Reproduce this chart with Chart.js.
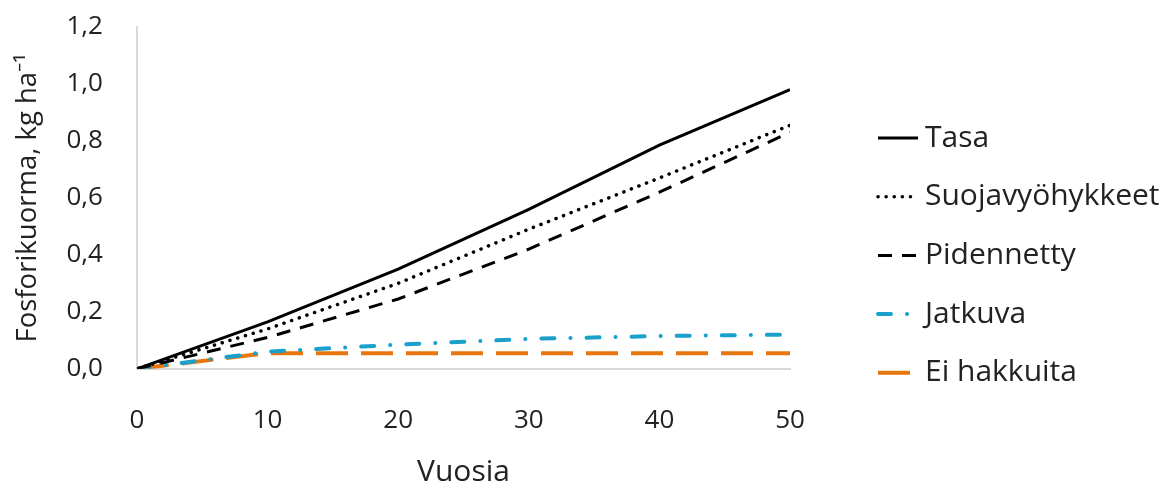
<!DOCTYPE html>
<html>
<head>
<meta charset="utf-8">
<script src="https://cdn.jsdelivr.net/npm/chart.js@4"></script>
<style>
  html, body { margin: 0; padding: 0; background: #fff; }
  #wrap { width: 1172px; height: 488px; }
</style>
</head>
<body>
<div id="wrap"><canvas id="myChart" width="1172" height="488"></canvas></div>
<script>
// vuodet ja fosforikuorma (kg/ha) luettuna kuvasta
var years = [0, 10, 20, 30, 40, 50];
var tasa = [0, 0.165, 0.35, 0.56, 0.785, 0.98];
var suoja = [0, 0.14, 0.30, 0.49, 0.67, 0.855];
var pidennetty = [0, 0.11, 0.245, 0.42, 0.62, 0.83];
var jatkuva = [0, 0.06, 0.085, 0.105, 0.115, 0.12];
var eiHakkuita = [0, 0.055, 0.055, 0.055, 0.055, 0.055];
var yTicks = [0, 0.2, 0.4, 0.6, 0.8, 1.0, 1.2];

function pts(arr) {
    return years.map(function (x, i) { return {x: x, y: arr[i]}; });
}

Chart.defaults.font.family = 'Open Sans';
Chart.defaults.color = '#222';

// selite piirretään itse oikealle, viivatyylit datasetistä
var sideLegend = {
    id: 'sideLegend',
    afterDraw: function (chart, args, opts) {
        var c = chart.ctx;
        chart.data.datasets.forEach(function (ds, i) {
            var y = opts.top + i * opts.step;
            c.save();
            c.strokeStyle = ds.borderColor;
            c.lineWidth = ds.borderWidth;
            c.lineCap = ds.borderCapStyle || 'butt';
            c.setLineDash(ds.borderDash || []);
            c.beginPath();
            c.moveTo(opts.x, y);
            c.lineTo(opts.x + opts.lineLen, y);
            c.stroke();
            c.setLineDash([]);
            c.fillStyle = '#222';
            c.font = opts.fontSize + 'px "Open Sans"';
            c.textBaseline = 'middle';
            c.textAlign = 'left';
            c.fillText(ds.label, opts.x + opts.lineLen + opts.gap, y);
            c.restore();
        });
    }
};

function noPadX(axis) { axis.paddingLeft = 0; axis.paddingRight = 0; }
function noPadY(axis) { axis.paddingTop = 0; axis.paddingBottom = 0; }

var ctx = document.getElementById('myChart').getContext('2d');
var myChart = new Chart(ctx, {
    type: 'line',
    data: {
        datasets: [{
            label: 'Tasa',
            data: pts(tasa),
            borderColor: '#000',
            borderWidth: 3
        }, {
            label: 'Suojavyöhykkeet',
            data: pts(suoja),
            borderColor: '#000',
            borderWidth: 3.5,
            borderDash: [0.1, 8],
            borderCapStyle: 'round'
        }, {
            label: 'Pidennetty',
            data: pts(pidennetty),
            borderColor: '#000',
            borderWidth: 3,
            borderDash: [14, 10]
        }, {
            label: 'Jatkuva',
            data: pts(jatkuva),
            borderColor: '#1AA1CB',
            borderWidth: 4,
            borderDash: [13, 16, 0.1, 16],
            borderCapStyle: 'round'
        }, {
            label: 'Ei hakkuita',
            data: pts(eiHakkuita),
            borderColor: '#E8760F',
            borderWidth: 4,
            borderDash: [32, 13]
        }]
    },
    options: {
        responsive: false,
        animation: false,
        elements: { point: { radius: 0 }, line: { tension: 0 } },
        layout: { padding: { left: 12, right: 382, top: 27, bottom: 1 } },
        scales: {
            x: {
                type: 'linear',
                min: 0,
                max: 50,
                afterFit: noPadX,
                grid: { display: true, drawOnChartArea: false, tickLength: 36, color: 'rgba(0,0,0,0)' },
                border: { display: true, color: '#d9d9d9', width: 2 },
                ticks: { stepSize: 10, padding: 0, maxRotation: 0, font: { size: 26 } },
                title: {
                    display: true,
                    text: 'Vuosia',
                    font: { size: 30, lineHeight: 1 },
                    padding: { top: 21, bottom: 0 }
                }
            },
            y: {
                min: 0,
                max: 1.2,
                afterFit: noPadY,
                grid: { display: true, drawOnChartArea: false, tickLength: 34, color: 'rgba(0,0,0,0)' },
                border: { display: true, color: '#d9d9d9', width: 2 },
                afterBuildTicks: function (axis) {
                    axis.ticks = yTicks.map(function (v) { return {value: v}; });
                },
                ticks: {
                    padding: 0,
                    font: { size: 26 },
                    callback: function (v) { return v.toFixed(1).replace('.', ','); }
                },
                title: {
                    display: true,
                    text: 'Fosforikuorma, kg ha⁻¹',
                    font: { size: 27.5, lineHeight: 1 },
                    padding: { top: 2, bottom: 25 }
                }
            }
        },
        plugins: {
            legend: { display: false },
            tooltip: { enabled: false },
            sideLegend: { x: 878, lineLen: 40, gap: 7, top: 138, step: 58.7, fontSize: 30 }
        }
    },
    plugins: [sideLegend]
});
</script>
</body>
</html>
